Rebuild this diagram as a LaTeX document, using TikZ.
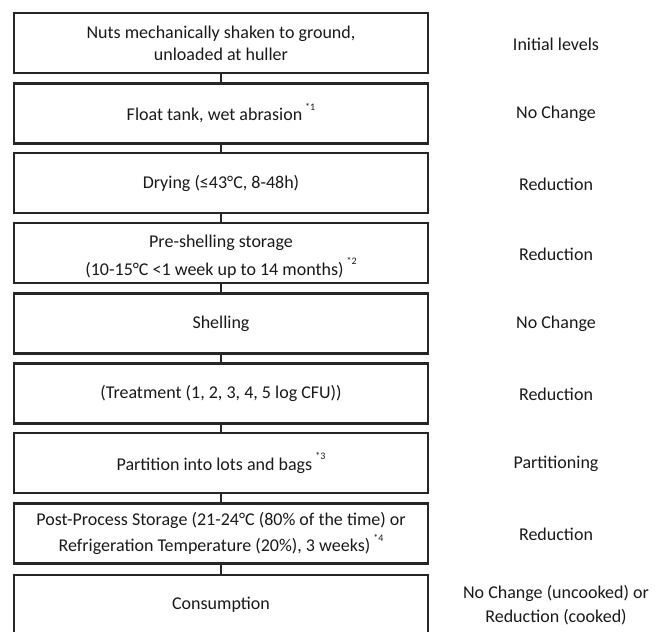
\documentclass[tikz,border=0pt]{standalone}
\usepackage{fontspec}
\setmainfont{Carlito}
\newcommand{\fnmark}[1]{\,\raisebox{0.56em}{\fontsize{10}{10}\selectfont #1}}
\begin{document}
\begin{tikzpicture}[x=1pt,y=-1pt,
  stepbox/.style={draw=black!85, line width=2.4pt, minimum width=414pt, minimum height=60pt, align=center, inner sep=0pt, font=\fontsize{18}{22}\selectfont, text=black!90},
  effect/.style={align=center, font=\fontsize{18}{22}\selectfont, text=black!90},
  link/.style={draw=black!85, line width=2.4pt}]
\useasboundingbox (0,0) rectangle (660,631);
\begin{scope}
\clip (0,0) rectangle (660,631);
\node[stepbox] (b1) at (221,43) {Nuts mechanically shaken to ground,\\unloaded at huller};
\node[stepbox] (b2) at (221,113.5) {Float tank, wet abrasion\fnmark{*1}};
\node[stepbox] (b3) at (221,183) {Drying (≤43°C, 8-48h)};
\node[stepbox] (b4) at (221,253) {\rule{0pt}{19pt}Pre-shelling storage\\[6pt](10-15°C <1 week up to 14 months)\fnmark{*2}};
\node[stepbox] (b5) at (221,323.5) {Shelling};
\node[stepbox] (b6) at (221,393.5) {(Treatment (1, 2, 3, 4, 5 log CFU))};
\node[stepbox] (b7) at (221,463) {Partition into lots and bags\fnmark{*3}};
\node[stepbox] (b8) at (221,533.5) {Post-Process Storage (21-24°C (80\% of the time) or\\[4pt]Refrigeration Temperature (20\%), 3 weeks)\fnmark{*4}};
\node[stepbox] (b9) at (221,605) {Consumption};
\foreach \a/\b in {b1/b2,b2/b3,b3/b4,b4/b5,b5/b6,b6/b7,b7/b8,b8/b9}
  \draw[link] (\a.south) -- (\b.north);
\end{scope}
\node[effect] (e1) at (556,44) {Initial levels};
\node[effect] (e2) at (556,114) {No Change};
\node[effect] (e3) at (556,184) {Reduction};
\node[effect] (e4) at (556,254) {Reduction};
\node[effect] (e5) at (556,324) {No Change};
\node[effect] (e6) at (556,394) {Reduction};
\node[effect] (e7) at (556,464) {Partitioning};
\node[effect] (e8) at (556,534) {Reduction};
\node[effect] (e9) at (556,605) {No Change (uncooked) or\\[2pt]Reduction (cooked)};
\end{tikzpicture}
\end{document}
